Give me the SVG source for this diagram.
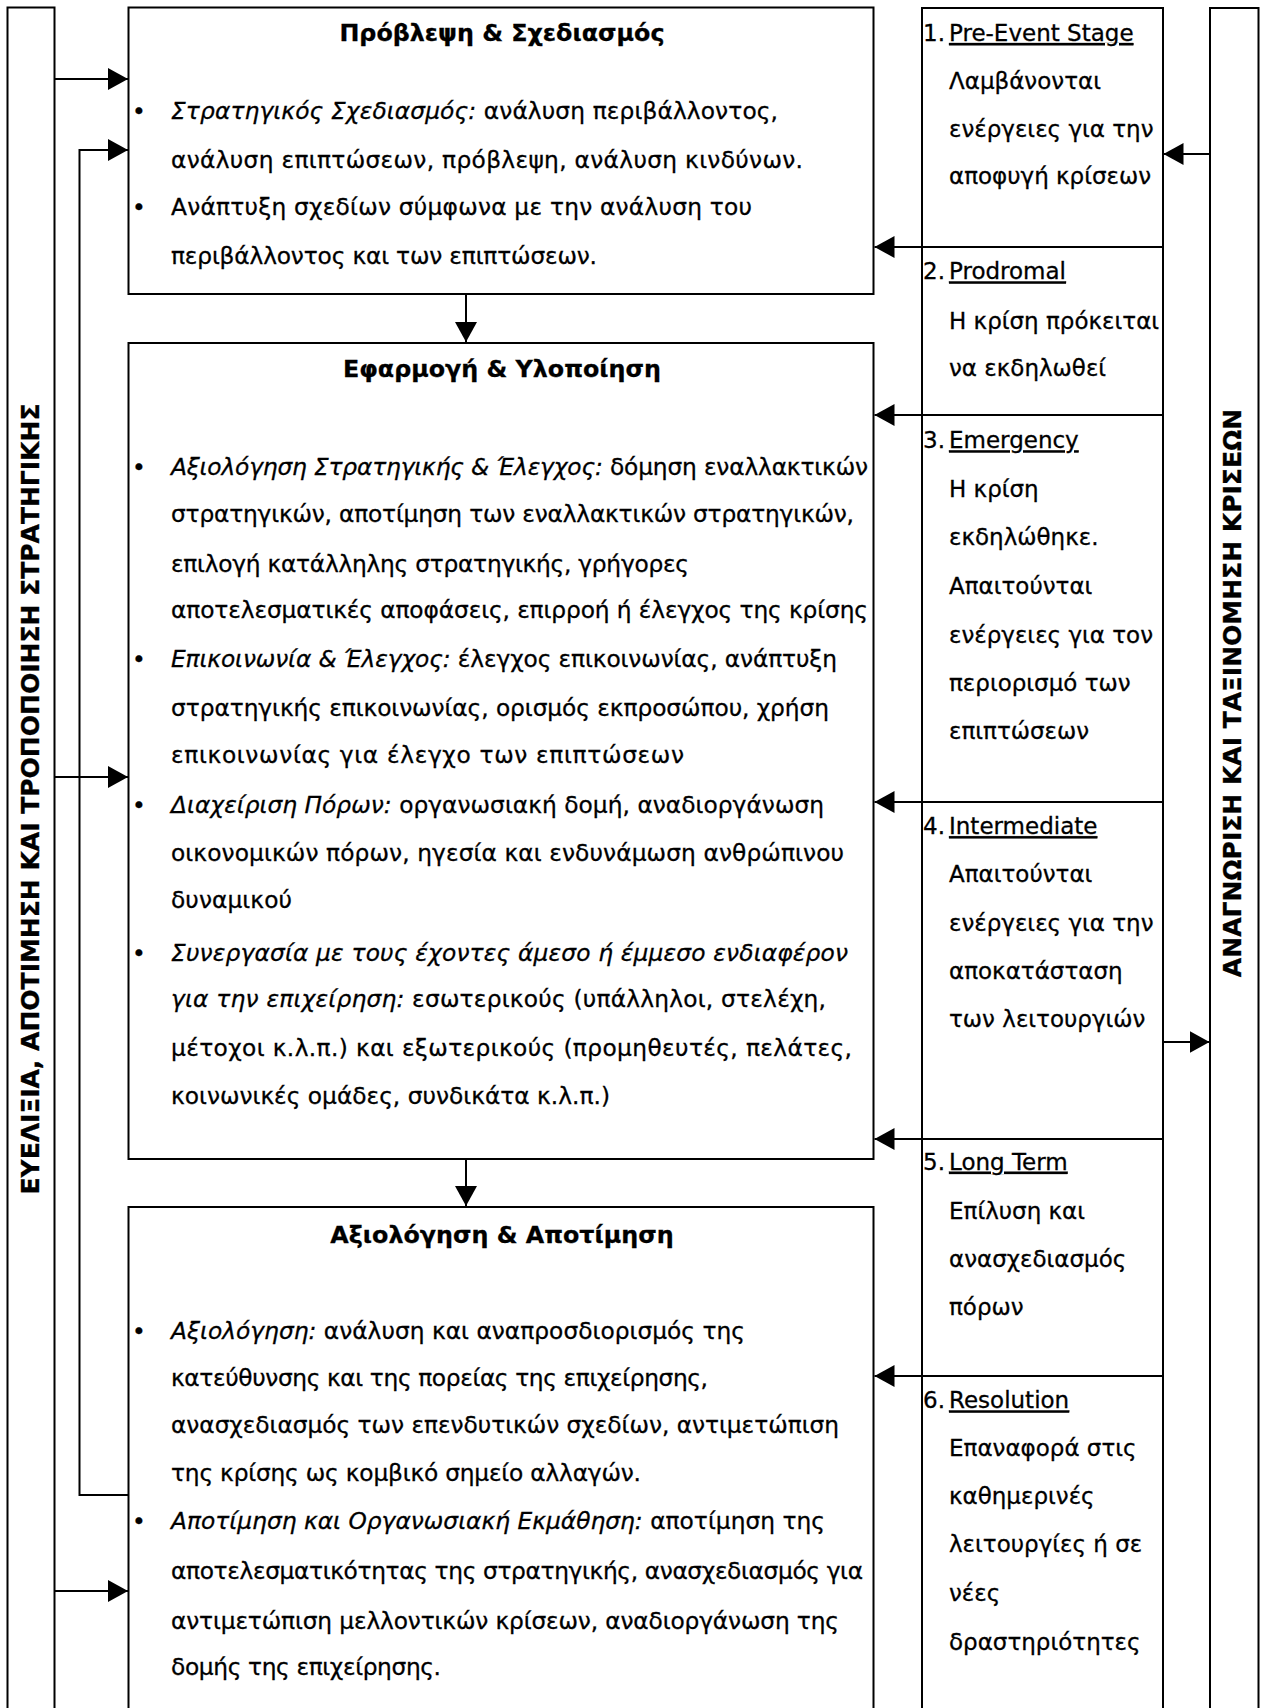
<svg xmlns="http://www.w3.org/2000/svg" width="1264" height="1708" viewBox="0 0 1264 1708">
<style>
text{font-family:"DejaVu Sans",Verdana,sans-serif;font-size:23.3px;fill:#000;stroke:#000;stroke-width:0.3}
.t{font-weight:bold;font-size:23.8px}
.i{font-style:italic}
.u{text-decoration:underline}
.st{font-size:23px}
.vt{font-weight:bold;font-size:25px}
.box{fill:#fff;stroke:#000;stroke-width:2}
.ln{fill:none;stroke:#000;stroke-width:2}
</style>
<defs>
<marker id="ah" markerUnits="userSpaceOnUse" markerWidth="21" markerHeight="23" refX="20" refY="11" orient="auto">
<path d="M0,0 L20,11 L0,22 z" fill="#000"/>
</marker>
</defs>
<rect width="1264" height="1708" fill="#fff"/>

<g id="left-bar">
<rect class="box" x="7.5" y="7.5" width="47" height="1720"/>
<text class="vt" transform="translate(39,799) rotate(-90)" text-anchor="middle">ΕΥΕΛΙΞΙΑ, ΑΠΟΤΙΜΗΣΗ ΚΑΙ ΤΡΟΠΟΠΟΙΗΣΗ ΣΤΡΑΤΗΓΙΚΗΣ</text>
</g>

<g id="right-bar">
<rect class="box" x="1210" y="8" width="48.5" height="1720"/>
<text class="vt" transform="translate(1241,693) rotate(-90)" text-anchor="middle">ΑΝΑΓΝΩΡΙΣΗ ΚΑΙ ΤΑΞΙΝΟΜΗΣΗ ΚΡΙΣΕΩΝ</text>
</g>

<g id="box-planning">
<rect class="box" x="128.5" y="7.5" width="745" height="286.5"/>
<text class="t" x="502" y="41" text-anchor="middle">Πρόβλεψη &amp; Σχεδιασμός</text>
<text x="132" y="119">•</text>
<text x="171" y="119" textLength="607" lengthAdjust="spacing"><tspan class="i">Στρατηγικός Σχεδιασμός:</tspan> ανάλυση περιβάλλοντος,</text>
<text x="171" y="168" textLength="632" lengthAdjust="spacing">ανάλυση επιπτώσεων, πρόβλεψη, ανάλυση κινδύνων.</text>
<text x="132" y="215">•</text>
<text x="171" y="215" textLength="581" lengthAdjust="spacing">Ανάπτυξη σχεδίων σύμφωνα με την ανάλυση του</text>
<text x="171" y="264" textLength="426" lengthAdjust="spacing">περιβάλλοντος και των επιπτώσεων.</text>
</g>

<g id="box-implementation">
<rect class="box" x="128.5" y="343" width="745" height="816"/>
<text class="t" x="502" y="377" text-anchor="middle">Εφαρμογή &amp; Υλοποίηση</text>
<text x="132" y="474.5">•</text>
<text x="171" y="474.5" textLength="697" lengthAdjust="spacing"><tspan class="i">Αξιολόγηση Στρατηγικής &amp; Έλεγχος:</tspan> δόμηση εναλλακτικών</text>
<text x="171" y="522.4" textLength="683" lengthAdjust="spacing">στρατηγικών, αποτίμηση των εναλλακτικών στρατηγικών,</text>
<text x="171" y="571.5" textLength="518" lengthAdjust="spacing">επιλογή κατάλληλης στρατηγικής, γρήγορες</text>
<text x="171" y="618.3" textLength="697" lengthAdjust="spacing">αποτελεσματικές αποφάσεις, επιρροή ή έλεγχος της κρίσης</text>
<text x="132" y="667.4">•</text>
<text x="171" y="667.4" textLength="666" lengthAdjust="spacing"><tspan class="i">Επικοινωνία &amp; Έλεγχος:</tspan> έλεγχος επικοινωνίας, ανάπτυξη</text>
<text x="171" y="716.4" textLength="658" lengthAdjust="spacing">στρατηγικής επικοινωνίας, ορισμός εκπροσώπου, χρήση</text>
<text x="171" y="763.2" textLength="513" lengthAdjust="spacing">επικοινωνίας για έλεγχο των επιπτώσεων</text>
<text x="132" y="813.4">•</text>
<text x="171" y="813.4" textLength="653" lengthAdjust="spacing"><tspan class="i">Διαχείριση Πόρων:</tspan> οργανωσιακή δομή, αναδιοργάνωση</text>
<text x="171" y="861.3" textLength="673" lengthAdjust="spacing">οικονομικών πόρων, ηγεσία και ενδυνάμωση ανθρώπινου</text>
<text x="171" y="908.2" textLength="121" lengthAdjust="spacing">δυναμικού</text>
<text x="132" y="960.5">•</text>
<text x="171" y="960.5" class="i" textLength="677" lengthAdjust="spacing">Συνεργασία με τους έχοντες άμεσο ή έμμεσο ενδιαφέρον</text>
<text x="171" y="1007.3" textLength="655" lengthAdjust="spacing"><tspan class="i">για την επιχείρηση:</tspan> εσωτερικούς (υπάλληλοι, στελέχη,</text>
<text x="171" y="1056.4" textLength="681" lengthAdjust="spacing">μέτοχοι κ.λ.π.) και εξωτερικούς (προμηθευτές, πελάτες,</text>
<text x="171" y="1104.3" textLength="439" lengthAdjust="spacing">κοινωνικές ομάδες, συνδικάτα κ.λ.π.)</text>
</g>

<g id="box-evaluation">
<rect class="box" x="128.5" y="1207" width="745" height="520"/>
<text class="t" x="502" y="1243" text-anchor="middle">Αξιολόγηση &amp; Αποτίμηση</text>
<text x="132" y="1338.6">•</text>
<text x="171" y="1338.6" textLength="574" lengthAdjust="spacing"><tspan class="i">Αξιολόγηση:</tspan> ανάλυση και αναπροσδιορισμός της</text>
<text x="171" y="1385.5" textLength="537" lengthAdjust="spacing">κατεύθυνσης και της πορείας της επιχείρησης,</text>
<text x="171" y="1433.4" textLength="668" lengthAdjust="spacing">ανασχεδιασμός των επενδυτικών σχεδίων, αντιμετώπιση</text>
<text x="171" y="1481.4" textLength="470" lengthAdjust="spacing">της κρίσης ως κομβικό σημείο αλλαγών.</text>
<text x="132" y="1529.3">•</text>
<text x="171" y="1529.3" textLength="654" lengthAdjust="spacing"><tspan class="i">Αποτίμηση και Οργανωσιακή Εκμάθηση:</tspan> αποτίμηση της</text>
<text x="171" y="1579.4" textLength="692" lengthAdjust="spacing">αποτελεσματικότητας της στρατηγικής, ανασχεδιασμός για</text>
<text x="171" y="1628.5" textLength="668" lengthAdjust="spacing">αντιμετώπιση μελλοντικών κρίσεων, αναδιοργάνωση της</text>
<text x="171" y="1675.3" textLength="270" lengthAdjust="spacing">δομής της επιχείρησης.</text>
</g>

<g id="stage-1">
<rect class="box" x="922" y="8" width="241" height="239"/>
<text class="st" x="923" y="41">1.<tspan class="u" x="949">Pre-Event Stage</tspan></text>
<text class="st" x="949" y="88.7">Λαμβάνονται</text>
<text class="st" x="949" y="136.7">ενέργειες για την</text>
<text class="st" x="949" y="183.5">αποφυγή κρίσεων</text>
</g>
<g id="stage-2">
<rect class="box" x="922" y="247" width="241" height="168"/>
<text class="st" x="923" y="279.4">2.<tspan class="u" x="949">Prodromal</tspan></text>
<text class="st" x="949" y="328.5">Η κρίση πρόκειται</text>
<text class="st" x="949" y="376.4">να εκδηλωθεί</text>
</g>
<g id="stage-3">
<rect class="box" x="922" y="415" width="241" height="387"/>
<text class="st" x="923" y="448.3">3.<tspan class="u" x="949">Emergency</tspan></text>
<text class="st" x="949" y="497.4">Η κρίση</text>
<text class="st" x="949" y="545.3">εκδηλώθηκε.</text>
<text class="st" x="949" y="594.3">Απαιτούνται</text>
<text class="st" x="949" y="643.4">ενέργειες για τον</text>
<text class="st" x="949" y="691.3">περιορισμό των</text>
<text class="st" x="949" y="739.3">επιπτώσεων</text>
</g>
<g id="stage-4">
<rect class="box" x="922" y="802" width="241" height="337"/>
<text class="st" x="923" y="834.1">4.<tspan class="u" x="949">Intermediate</tspan></text>
<text class="st" x="949" y="882">Απαιτούνται</text>
<text class="st" x="949" y="931">ενέργειες για την</text>
<text class="st" x="949" y="979">αποκατάσταση</text>
<text class="st" x="949" y="1027">των λειτουργιών</text>
</g>
<g id="stage-5">
<rect class="box" x="922" y="1139" width="241" height="237"/>
<text class="st" x="923" y="1169.7">5.<tspan class="u" x="949">Long Term</tspan></text>
<text class="st" x="949" y="1218.7">Επίλυση και</text>
<text class="st" x="949" y="1266.7">ανασχεδιασμός</text>
<text class="st" x="949" y="1314.6">πόρων</text>
</g>
<g id="stage-6">
<rect class="box" x="922" y="1376" width="241" height="352"/>
<text class="st" x="923" y="1408.4">6.<tspan class="u" x="949">Resolution</tspan></text>
<text class="st" x="949" y="1456.3">Επαναφορά στις</text>
<text class="st" x="949" y="1504.2">καθημερινές</text>
<text class="st" x="949" y="1552.2">λειτουργίες ή σε</text>
<text class="st" x="949" y="1601.2">νέες</text>
<text class="st" x="949" y="1650.3">δραστηριότητες</text>
</g>

<g id="connectors">
<path class="ln" d="M54.5,79 H128" marker-end="url(#ah)"/>
<path class="ln" d="M54.5,777 H128" marker-end="url(#ah)"/>
<path class="ln" d="M54.5,1591 H128" marker-end="url(#ah)"/>
<path class="ln" d="M128,1495 H79.5 V150 H128" marker-end="url(#ah)"/>
<path class="ln" d="M466,294 V342" marker-end="url(#ah)"/>
<path class="ln" d="M466,1159 V1206" marker-end="url(#ah)"/>
<path class="ln" d="M1163,247 H874.5" marker-end="url(#ah)"/>
<path class="ln" d="M1163,415 H874.5" marker-end="url(#ah)"/>
<path class="ln" d="M1163,802 H874.5" marker-end="url(#ah)"/>
<path class="ln" d="M1163,1139 H874.5" marker-end="url(#ah)"/>
<path class="ln" d="M1163,1376 H874.5" marker-end="url(#ah)"/>
<path class="ln" d="M1210,154 H1163.5" marker-end="url(#ah)"/>
<path class="ln" d="M1163,1042 H1209.5" marker-end="url(#ah)"/>
</g>
</svg>
